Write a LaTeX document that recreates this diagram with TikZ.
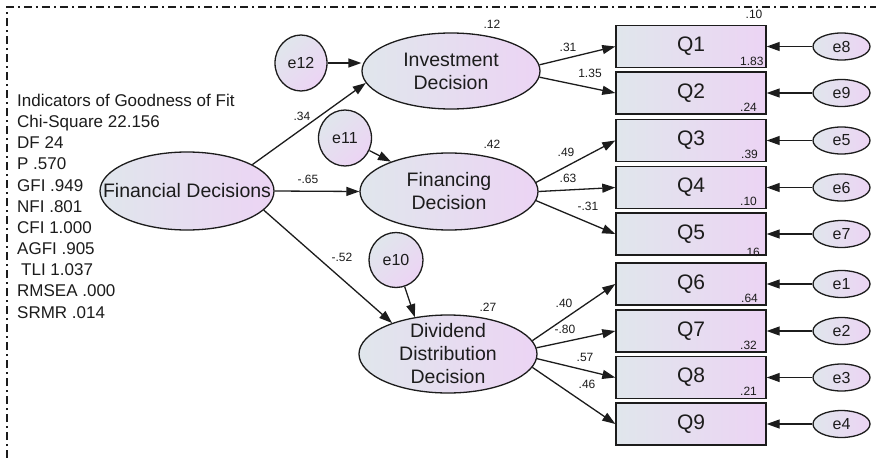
\documentclass[tikz,border=0pt]{standalone}
\usepackage{fontspec}
\setmainfont{Liberation Sans}
\usetikzlibrary{shapes.geometric,arrows.meta}
\definecolor{lb}{RGB}{224,230,236}
\definecolor{lp}{RGB}{236,212,244}
\definecolor{ink}{RGB}{28,28,28}
\begin{document}
\begin{tikzpicture}[x=1pt,y=-1pt,
  lat/.style={ellipse, draw=ink, line width=1.3pt, left color=lb, right color=lp,
    minimum width=178pt, minimum height=77pt, inner sep=0pt},
  lattext/.style={align=center, font=\fontsize{19.5}{23}\selectfont, text=ink, inner sep=0pt},
  err/.style={ellipse, draw=ink, line width=1.3pt, left color=lb, right color=lp,
    shading angle=45, inner sep=0pt, font=\fontsize{16}{18}\selectfont, text=ink},
  obs/.style={rectangle, draw=ink, line width=1.4pt, left color=lb, right color=lp,
    minimum width=150pt, minimum height=42pt, inner sep=0pt,
    font=\fontsize{21}{22}\selectfont, text=ink},
  arr/.style={draw=ink, line width=1.3pt, -{Triangle[length=13pt,width=9pt]}},
  coef/.style={font=\fontsize{12}{13}\selectfont, text=ink, inner sep=0pt},
  fitline/.style={font=\fontsize{17}{20}\selectfont, anchor=base west, inner sep=0pt, text=ink}
]
\useasboundingbox (0,0) rectangle (876,458);
\fill[white] (0,0) rectangle (876,458);
\draw[ink, line width=1.3pt, dash pattern=on 8pt off 4pt on 2pt off 4pt] (7,458) -- (7,7) -- (876,7);

% fit indicators
\node[fitline] (f1) at (17,106.5) {Indicators of Goodness of Fit};
\node[fitline] (f2) at (17,127.6) {Chi-Square 22.156};
\node[fitline] (f3) at (17,148.8) {DF 24};
\node[fitline] (f4) at (17,169.9) {P .570};
\node[fitline] (f5) at (17,191.1) {GFI .949};
\node[fitline] (f6) at (17,212.2) {NFI .801};
\node[fitline] (f7) at (17,233.4) {CFI 1.000};
\node[fitline] (f8) at (17,254.5) {AGFI .905};
\node[fitline] (f9) at (21,275.7) {TLI 1.037};
\node[fitline] (f10) at (17,296.8) {RMSEA .000};
\node[fitline] (f11) at (17,318) {SRMR .014};

% latent variables
\node[lat, minimum width=174pt, minimum height=78pt] (fd) at (187,191) {};
\node[lattext] (fdt) at (fd.center) {Financial Decisions};
\node[lat, minimum height=76pt] (inv) at (451,71) {};
\node[lattext] (invt) at (inv.center) {Investment\\Decision};
\node[lat] (fin) at (449,191.5) {};
\node[lattext] (fint) at (fin.center) {Financing\\Decision};
\node[lat, minimum height=78pt] (div) at (448,354) {};
\node[lattext] (divt) at (div.center) {Dividend\\Distribution\\Decision};

% disturbances
\node[err, minimum width=52pt, minimum height=56pt] (e12) at (301,63) {e12};
\node[err, minimum width=53pt, minimum height=56pt] (e11) at (345,138) {e11};
\node[err, minimum width=54pt, minimum height=55pt] (e10) at (396,260) {e10};

% observed
\foreach \n/\y in {1/46.5,2/93,3/140.5,4/187.5,5/234,6/284,7/331,8/377.5,9/424}{
  \node[obs] (Q\n) at (691,\y) {Q\n};
}
% errors of observed
\foreach \e/\q in {8/1,9/2,5/3,6/4,7/5,1/6,2/7,3/8,4/9}{
  \node[err, shading angle=90, minimum width=57pt, minimum height=27pt] (e\e) at (841.5,0 |- Q\q) {e\e};
  \draw[arr] (e\e.west) -- (Q\q.east);
}

% structural paths
\draw[arr] (fd.22) -- (inv.188);
\draw[arr] (fd.east) -- (fin.west);
\draw[arr] (fd.-14) -- (div.151);
\draw[arr] (e12.east) -- (e12.east -| inv.west);
\draw[arr] (e11) -- (fin);
\draw[arr] (e10.-72) -- (div.132);

% measurement paths
\draw[arr] (inv.4) -- (Q1.west);
\draw[arr] (inv.-4) -- (Q2.west);
\draw[arr] (fin.6) -- (Q3.west);
\draw[arr] (fin.east) -- (Q4.west);
\draw[arr] (fin.-6) -- (Q5.west);
\draw[arr] (div.9) -- (Q6.west);
\draw[arr] (div.4) -- (Q7.west);
\draw[arr] (div.-3) -- (Q8.west);
\draw[arr] (div.-9) -- (Q9.west);

% coefficients
\node[coef] (c1) at (302,116) {.34};
\node[coef] (c2) at (308,179) {-.65};
\node[coef] (c3) at (342,257) {-.52};
\node[coef] (r1) at (492,24) {.12};
\node[coef] (r2) at (492,144) {.42};
\node[coef] (r3) at (488,307) {.27};
\node[coef] (l1) at (568,47) {.31};
\node[coef] (l2) at (590,73) {1.35};
\node[coef] (l3) at (566,152) {.49};
\node[coef] (l4) at (568,178) {.63};
\node[coef] (l5) at (588,206) {-.31};
\node[coef] (l6) at (564,303) {.40};
\node[coef] (l7) at (565,329) {-.80};
\node[coef] (l8) at (585,357) {.57};
\node[coef] (l9) at (587,384) {.46};
\node[coef] (s0) at (754,14) {.10};
\node[coef, anchor=base west] (s1) at (740,65.5) {1.83};
\node[coef, anchor=base west] (s2) at (740,111) {.24};
\node[coef, anchor=base west] (s3) at (741,158.5) {.39};
\node[coef, anchor=base west] (s4) at (740,205.5) {.10};
\node[coef, anchor=base west] (s5) at (743,256) {.16};
\node[coef, anchor=base west] (s6) at (741,302) {.64};
\node[coef, anchor=base west] (s7) at (740,349) {.32};
\node[coef, anchor=base west] (s8) at (740,395.5) {.21};
\end{tikzpicture}
\end{document}
